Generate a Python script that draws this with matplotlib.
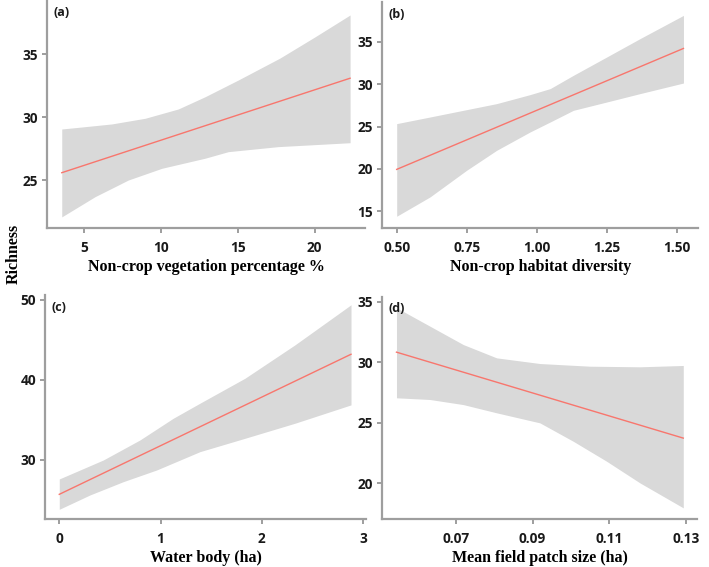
import numpy as np
import matplotlib.pyplot as plt

# panel (a): non-crop vegetation percentage
a_upper_x = [3.55, 4.63, 6.8, 8.97, 11.13, 12.87, 15.03, 17.74, 20.0, 22.3]
a_upper = [29.07, 29.2, 29.47, 29.92, 30.66, 31.63, 32.96, 34.7, 36.37, 38.12]
a_lower_x = [3.55, 5.72, 7.88, 10.06, 12.87, 14.38, 17.63, 22.3]
a_lower = [22.09, 23.7, 25.02, 25.95, 26.75, 27.27, 27.67, 27.98]
a_fit_x = [3.55, 22.3]
a_fit = [25.6, 33.1]

# panel (b): non-crop habitat diversity
b_upper_x = [0.5, 0.619, 0.738, 0.857, 0.976, 1.048, 1.131, 1.25, 1.369, 1.524]
b_upper = [25.35, 26.13, 26.92, 27.71, 28.77, 29.48, 31.05, 33.21, 35.38, 38.12]
b_lower_x = [0.5, 0.619, 0.75, 0.857, 0.976, 1.048, 1.131, 1.25, 1.369, 1.524]
b_lower = [14.42, 16.7, 19.85, 22.2, 24.36, 25.54, 26.92, 27.9, 28.89, 30.14]
b_fit_x = [0.5, 1.524]
b_fit = [19.95, 34.22]

# panel (c): water body
c_upper_x = [0.0, 0.435, 0.797, 1.126, 1.39, 1.835, 2.329, 2.882]
c_upper = [27.63, 30.0, 32.5, 35.21, 37.09, 40.21, 44.38, 49.38]
c_lower_x = [0.0, 0.303, 0.632, 0.962, 1.39, 1.835, 2.329, 2.882]
c_lower = [23.84, 25.63, 27.29, 28.75, 31.04, 32.71, 34.59, 36.88]
c_fit_x = [0.0, 2.882]
c_fit = [25.71, 43.2]

# panel (d): mean field patch size
d_upper_x = [0.0545, 0.0632, 0.0719, 0.0806, 0.0919, 0.1049, 0.118, 0.1293]
d_upper = [34.5, 32.98, 31.46, 30.36, 29.89, 29.67, 29.62, 29.73]
d_lower_x = [0.0545, 0.0632, 0.0719, 0.0806, 0.0919, 0.1006, 0.1093, 0.118, 0.1293]
d_lower = [27.06, 26.92, 26.5, 25.82, 24.99, 23.47, 21.82, 20.03, 17.97]
d_fit_x = [0.0545, 0.1293]
d_fit = [30.83, 23.73]

W, H = 709, 567
fig = plt.figure(figsize=(W / 100, H / 100), dpi=100)

spine_col = '#9e9e9e'
band_col = '#d9d9d9'
line_col = '#f8766d'
tick_family = 'Open Sans'
label_font = dict(family='Liberation Serif', weight='bold', size=11.5)


def panel(px, tag, ux, uy, lx, ly, fx, fy, xlim, ylim, xticks, xticklabels, yticks, xlabel, xlabel_y):
    left, right, top, bottom = px
    ax = fig.add_axes([left / W, 1 - bottom / H, (right - left) / W, (bottom - top) / H])
    # put both band edges on one x grid for fill_between
    xs = np.union1d(ux, lx)
    up = np.interp(xs, ux, uy)
    lo = np.interp(xs, lx, ly)
    ax.fill_between(xs, lo, up, color=band_col, linewidth=0)
    ax.plot(fx, fy, color=line_col, linewidth=1.0)
    ax.set_xlim(*xlim)
    ax.set_ylim(*ylim)
    ax.set_xticks(xticks)
    ax.set_xticklabels(xticklabels)
    ax.set_yticks(yticks)
    for s in ['top', 'right']:
        ax.spines[s].set_visible(False)
    for s in ['left', 'bottom']:
        ax.spines[s].set_color(spine_col)
        ax.spines[s].set_linewidth(1.6)
    ax.tick_params(axis='both', colors=spine_col, width=1.4, length=3.5)
    ax.tick_params(axis='x', pad=6)
    ax.tick_params(axis='y', pad=3)
    for lab in ax.get_xticklabels() + ax.get_yticklabels():
        lab.set_color('#1a1a1a')
        lab.set_fontfamily(tick_family)
        lab.set_fontweight('bold')
        lab.set_fontsize(9.8)
    ax.text(0.02, 0.975, tag, transform=ax.transAxes, ha='left', va='top',
            fontfamily=tick_family, fontweight='bold', fontsize=9, color='#1a1a1a')
    fig.text((left + right) / 2 / W, 1 - xlabel_y / H, xlabel, ha='center', va='center', **label_font)
    return ax


panel((47, 365, 0, 228), '(a)', a_upper_x, a_upper, a_lower_x, a_lower, a_fit_x, a_fit,
      (2.59, 23.27), (21.21, 39.31), [5, 10, 15, 20], ['5', '10', '15', '20'], [25, 30, 35],
      'Non-crop vegetation percentage %', 267)
panel((382.3, 698.3, 2, 227.7), '(b)', b_upper_x, b_upper, b_lower_x, b_lower, b_fit_x, b_fit,
      (0.4486, 1.577), (13.07, 39.7), [0.5, 0.75, 1.0, 1.25, 1.5], ['0.50', '0.75', '1.00', '1.25', '1.50'],
      [15, 20, 25, 30, 35], 'Non-crop habitat diversity', 267)
panel((45, 366, 295, 519), '(c)', c_upper_x, c_upper, c_lower_x, c_lower, c_fit_x, c_fit,
      (-0.141, 3.03), (22.63, 50.6), [0, 1, 2, 3], ['0', '1', '2', '3'], [30, 40, 50],
      'Water body (ha)', 558)
panel((382.3, 696.7, 296.7, 519), '(d)', d_upper_x, d_upper, d_lower_x, d_lower, d_fit_x, d_fit,
      (0.0508, 0.1328), (17.05, 35.41), [0.07, 0.09, 0.11, 0.13], ['0.07', '0.09', '0.11', '0.13'],
      [20, 25, 30, 35], 'Mean field patch size (ha)', 558)

fig.text(14 / W, 1 - 254 / H, 'Richness', rotation=90, ha='center', va='center', **label_font)

fig.savefig('out.png', dpi=100)
